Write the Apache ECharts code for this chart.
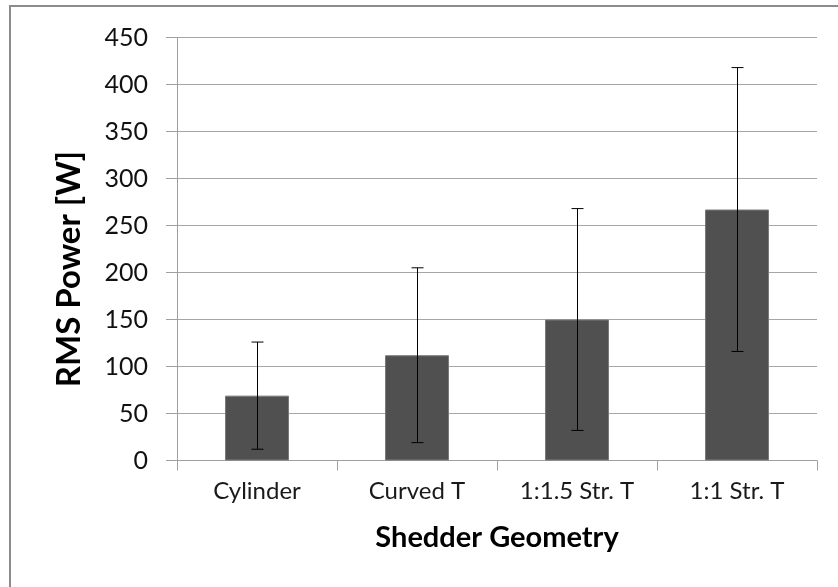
<!DOCTYPE html>
<html>
<head>
<meta charset="utf-8">
<script src="https://cdn.jsdelivr.net/npm/echarts@6/dist/echarts.min.js"></script>
<style>
  html, body { margin: 0; padding: 0; background: #fff; }
  #chart { width: 838px; height: 587px; }
</style>
</head>
<body>
<div id="chart"></div>
<script>
// Shedder geometries and their mean RMS power with standard deviation
const categories = ['Cylinder', 'Curved T', '1:1.5 Str. T', '1:1 Str. T'];
const rmsPower = [69, 112, 150, 267];
const rmsError = [57, 93, 118, 151];
const yTicks = { min: 0, max: 450, interval: 50 };

const FONT = 'Lato, "Open Sans", sans-serif';
const chart = echarts.init(document.getElementById('chart'));

const errorData = rmsPower.map((v, i) => [i, v - rmsError[i], v + rmsError[i]]);

chart.setOption({
  animation: false,
  backgroundColor: '#ffffff',
  grid: { left: 177, right: 21, top: 37.5, bottom: 126.5, containLabel: false },
  xAxis: {
    type: 'category',
    data: categories,
    boundaryGap: true,
    axisLine: { show: true, lineStyle: { color: '#a0a0a0', width: 1 } },
    axisTick: { show: true, length: 10, lineStyle: { color: '#a0a0a0' } },
    axisLabel: { color: '#1a1a1a', fontFamily: FONT, fontSize: 24, margin: 19 },
    splitLine: { show: false }
  },
  yAxis: {
    type: 'value',
    min: yTicks.min,
    max: yTicks.max,
    interval: yTicks.interval,
    axisLine: { show: true, lineStyle: { color: '#a0a0a0', width: 1 } },
    axisTick: { show: true, length: 11, lineStyle: { color: '#a0a0a0' } },
    axisLabel: { color: '#111', fontFamily: FONT, fontSize: 25, margin: 29 },
    splitLine: { show: true, lineStyle: { color: '#a6a6a6', width: 1 } }
  },
  graphic: [
    {
      type: 'rect',
      shape: { x: 10, y: 6, width: 840, height: 600 },
      style: { fill: 'none', stroke: '#8c8c8c', lineWidth: 2 },
      silent: true, z: 0
    },
    {
      type: 'text',
      x: 69, y: 269,
      rotation: Math.PI / 2,
      style: {
        text: 'RMS Power [W]',
        fontFamily: FONT, fontWeight: 'bold', fontSize: 33,
        fill: '#000', align: 'center', verticalAlign: 'middle'
      }
    },
    {
      type: 'text',
      x: 497, y: 538,
      style: {
        text: 'Shedder Geometry',
        fontFamily: FONT, fontWeight: 'bold', fontSize: 29,
        fill: '#000', align: 'center', verticalAlign: 'middle'
      }
    }
  ],
  series: [
    {
      type: 'bar',
      data: rmsPower,
      barWidth: '40%',
      itemStyle: { color: '#505050', borderColor: '#7a7a7a', borderWidth: 1 },
      z: 2
    },
    {
      type: 'custom',
      data: errorData,
      z: 3,
      renderItem: function (params, api) {
        const idx = api.value(0);
        const low = api.coord([idx, api.value(1)]);
        const high = api.coord([idx, api.value(2)]);
        const x = Math.round(low[0]) + 0.5;
        const cap = 6;
        const style = { stroke: '#000', lineWidth: 1 };
        return {
          type: 'group',
          children: [
            { type: 'line', shape: { x1: x, y1: high[1], x2: x, y2: low[1] }, style: style },
            { type: 'line', shape: { x1: x - cap, y1: high[1], x2: x + cap, y2: high[1] }, style: style },
            { type: 'line', shape: { x1: x - cap, y1: low[1], x2: x + cap, y2: low[1] }, style: style }
          ]
        };
      }
    }
  ]
});
</script>
</body>
</html>
